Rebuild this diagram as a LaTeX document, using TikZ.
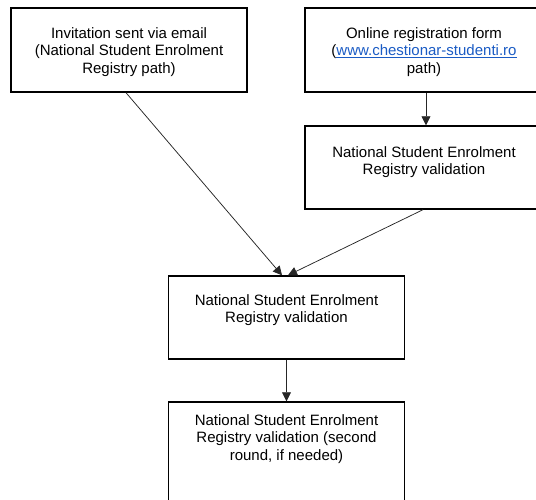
\documentclass[tikz,border=0pt]{standalone}
\usepackage{fontspec}
\setmainfont{Liberation Sans}
\usetikzlibrary{
    arrows.meta,
    positioning
}
\definecolor{link blue}{HTML}{1A5BC4}
\tikzset{
    % Boxes
    box/.style={draw=black,line width=1.4pt,minimum width=236pt,minimum height=83pt,inner sep=0pt},
    wide box/.style={box,minimum width=242pt},
    box text/.style={align=center,inner sep=0pt,anchor=north},
    %
    % Arrows
    arrow tip/.tip={Triangle[length=9pt,width=9pt]},
    arr/.style={->,>={arrow tip},line width=.75pt,black!85}
}
\tikzstyle{every node}=[font=\fontsize{15}{17.5}\selectfont]
\newcommand{\weblink}[1]{{\color{link blue}\underline{#1}}}

\begin{document}
\begin{tikzpicture}[x=1pt,y=1pt]
        \useasboundingbox (0,0) rectangle (536,500);
        \clip (0,0) rectangle (536,500);

        % the boxes
        \node[box,minimum height=84pt] (email) at (129,450) {};
        \node[wide box,minimum height=84pt] (online) at (426,450) {};
        \node[wide box] (check web) at (426,332.5) {};
        \node[box] (check all) at (286.5,182.5) {};
        \node[box,minimum height=120pt] (check again) at (286.5,38) {};

        % their texts
        \node[box text,below=20pt of email.north] (email text) {Invitation sent via email\\(National Student Enrolment\\Registry path)};
        \node[box text,below=20pt of online.north,xshift=-2pt] (online text) {Online registration form\\(\weblink{www.chestionar-studenti.ro}\\path)};
        \node[box text,below=21pt of check web.north,xshift=-2pt] (check web text) {National Student Enrolment\\Registry validation};
        \node[box text,below=19pt of check all.north] (check all text) {National Student Enrolment\\Registry validation};
        \node[box text,below=13pt of check again.north] (check again text) {National Student Enrolment\\Registry validation (second\\round, if needed)};

        % the connectors
        \draw[arr] ([xshift=-3pt]email.south) -- ([xshift=-4.5pt]check all.north);
        \draw[arr] ([xshift=-3pt]check web.south) -- ([xshift=1.5pt]check all.north);
        \draw[arr] (online.south) -- (check web.north);
        \draw[arr] (check all.south) -- (check again.north);
    \end{tikzpicture}
\end{document}
